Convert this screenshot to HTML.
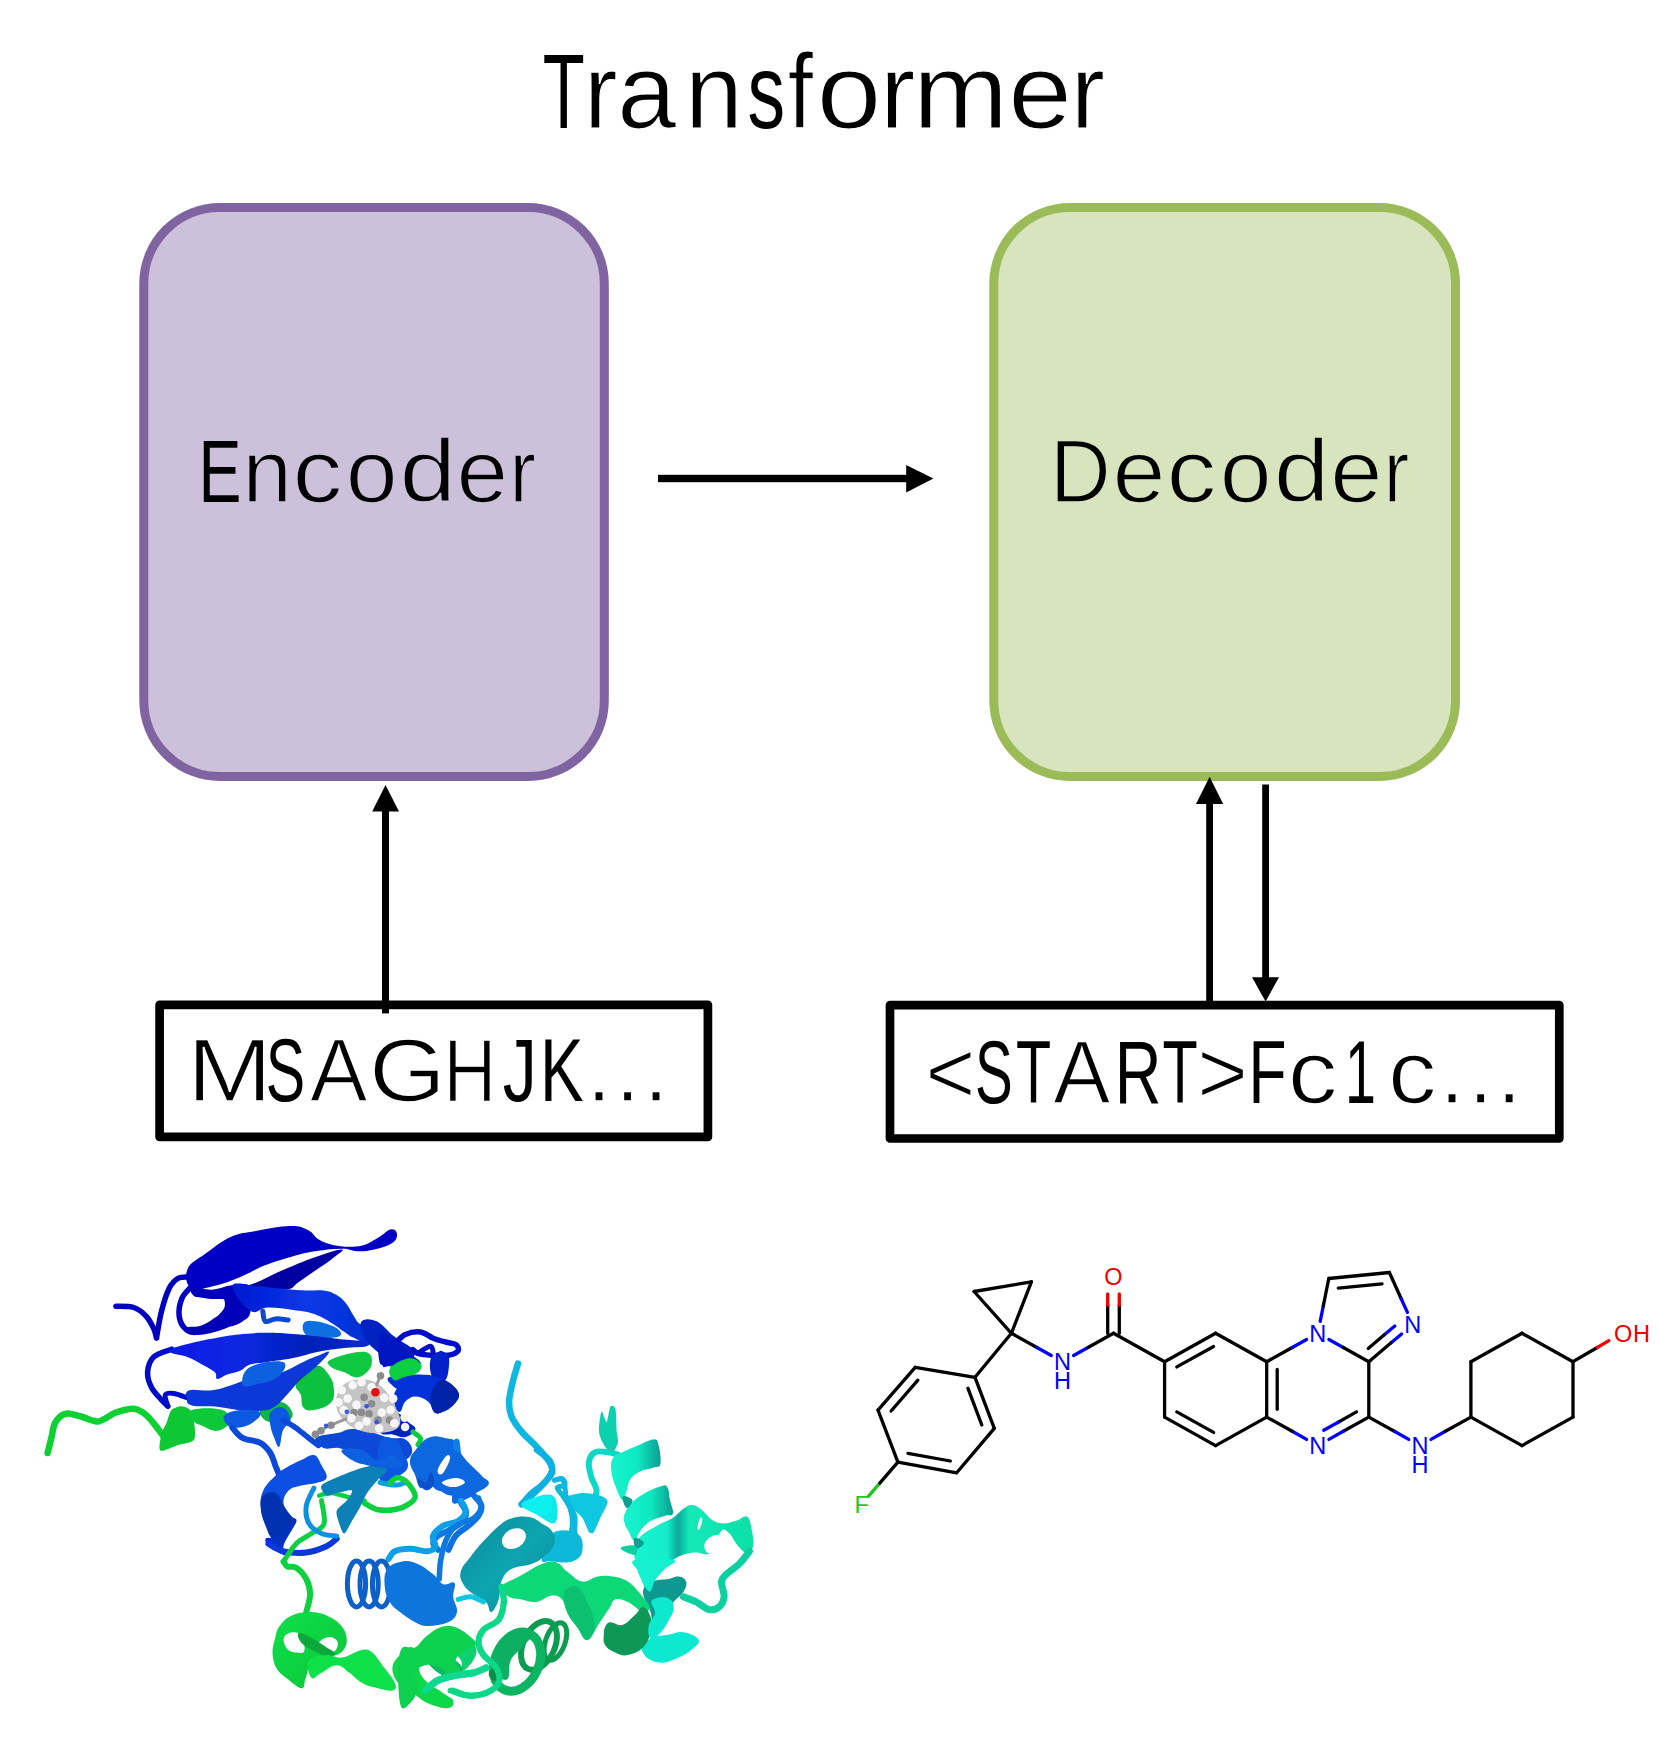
<!DOCTYPE html>
<html lang="en">
<head>
<meta charset="utf-8">
<title>Transformer</title>
<style>
html,body{margin:0;padding:0;background:#fff;}
body{width:1659px;height:1740px;overflow:hidden;position:relative;}
svg{position:absolute;left:0;top:0;display:block;}
text{font-family:"Liberation Sans",sans-serif;}
.mol text{font-size:23.5px;text-anchor:middle;}
</style>
</head>
<body>
<svg width="1659" height="1740" viewBox="0 0 1659 1740" role="img" aria-label="Transformer: Encoder, Decoder, MSAGHJK…, &lt;START&gt;Fc1c…">
<desc>Transformer diagram. Encoder block fed by protein sequence MSAGHJK… ; Decoder block exchanging tokens with &lt;START&gt;Fc1c… ; protein ribbon structure and generated molecule.</desc>
<rect x="0" y="0" width="1659" height="1740" fill="#ffffff"/>

<!-- title -->
<text y="128.2" font-size="105.5" stroke="#fff" stroke-width="1.2" paint-order="fill stroke"><tspan x="542.8" textLength="42.0" lengthAdjust="spacingAndGlyphs" stroke="none">T</tspan><tspan x="583.9" textLength="33.6" lengthAdjust="spacingAndGlyphs">r</tspan><tspan x="617.3" textLength="58.9" lengthAdjust="spacingAndGlyphs">a</tspan><tspan x="684.9" textLength="57.8" lengthAdjust="spacingAndGlyphs">n</tspan><tspan x="747.4" textLength="37.6" lengthAdjust="spacingAndGlyphs" stroke="none">s</tspan><tspan x="787.7" textLength="25.3" lengthAdjust="spacingAndGlyphs">f</tspan><tspan x="816.8" textLength="64.5" lengthAdjust="spacingAndGlyphs">o</tspan><tspan x="879.9" textLength="35.3" lengthAdjust="spacingAndGlyphs">r</tspan><tspan x="913.1" textLength="95.1" lengthAdjust="spacingAndGlyphs">m</tspan><tspan x="1008.2" textLength="63.7" lengthAdjust="spacingAndGlyphs">e</tspan><tspan x="1070.8" textLength="34.2" lengthAdjust="spacingAndGlyphs">r</tspan></text>

<!-- encoder / decoder blocks -->
<rect x="143.8" y="207.5" width="460.5" height="569" rx="76" ry="76" fill="#ccc0da" stroke="#8064a2" stroke-width="9"/>
<rect x="993.8" y="207.5" width="461.7" height="569" rx="76" ry="76" fill="#d7e4bd" stroke="#9bbb59" stroke-width="9"/>
<text y="501.8" font-size="89.5" stroke="#ccc0da" stroke-width="1.6" paint-order="fill stroke"><tspan x="198.4" textLength="42.9" lengthAdjust="spacingAndGlyphs" stroke="none">E</tspan><tspan x="242.6" textLength="49.3" lengthAdjust="spacingAndGlyphs">n</tspan><tspan x="292.4" textLength="49.9" lengthAdjust="spacingAndGlyphs">c</tspan><tspan x="345.7" textLength="51.8" lengthAdjust="spacingAndGlyphs">o</tspan><tspan x="399.6" textLength="56.6" lengthAdjust="spacingAndGlyphs">d</tspan><tspan x="456.6" textLength="51.6" lengthAdjust="spacingAndGlyphs">e</tspan><tspan x="509.5" textLength="26.5" lengthAdjust="spacingAndGlyphs">r</tspan></text>
<text y="501.8" font-size="89.5" stroke="#d7e4bd" stroke-width="1.6" paint-order="fill stroke"><tspan x="1049.9" textLength="60.7" lengthAdjust="spacingAndGlyphs">D</tspan><tspan x="1112.4" textLength="53.0" lengthAdjust="spacingAndGlyphs">e</tspan><tspan x="1166.5" textLength="49.9" lengthAdjust="spacingAndGlyphs">c</tspan><tspan x="1219.8" textLength="51.8" lengthAdjust="spacingAndGlyphs">o</tspan><tspan x="1273.7" textLength="55.7" lengthAdjust="spacingAndGlyphs">d</tspan><tspan x="1330.2" textLength="52.2" lengthAdjust="spacingAndGlyphs">e</tspan><tspan x="1383.7" textLength="25.5" lengthAdjust="spacingAndGlyphs">r</tspan></text>

<!-- arrows -->
<g fill="#000" stroke="none">
<rect x="658" y="474.8" width="250" height="7.4"/>
<polygon points="906.2,464.9 933.4,478.6 906.2,492.4"/>
<rect x="382" y="810" width="7" height="203.4"/>
<polygon points="372.2,811.4 385.5,785 399,811.4"/>
<rect x="1206.2" y="803" width="6.8" height="200"/>
<polygon points="1196,804 1209.6,776.7 1223.2,804"/>
<rect x="1262.2" y="784.5" width="6.8" height="194"/>
<polygon points="1252,977.2 1265.6,1001.6 1279,977.2"/>
</g>

<!-- sequence boxes -->
<rect x="159.6" y="1004.9" width="548.3" height="132" fill="none" stroke="#000" stroke-width="8.7" stroke-linejoin="round"/>
<rect x="890" y="1005.1" width="669.3" height="133.4" fill="none" stroke="#000" stroke-width="8.7" stroke-linejoin="round"/>
<text y="1100.8" font-size="89.5" stroke="#fff" stroke-width="1.6" paint-order="fill stroke"><tspan x="187.0" textLength="85.3" lengthAdjust="spacingAndGlyphs">M</tspan><tspan x="265.8" textLength="39.4" lengthAdjust="spacingAndGlyphs" stroke="none">S</tspan><tspan x="310.0" textLength="57.5" lengthAdjust="spacingAndGlyphs">A</tspan><tspan x="368.9" textLength="76.8" lengthAdjust="spacingAndGlyphs">G</tspan><tspan x="443.5" textLength="52.7" lengthAdjust="spacingAndGlyphs">H</tspan><tspan x="502.7" textLength="34.0" lengthAdjust="spacingAndGlyphs" stroke="none">J</tspan><tspan x="539.9" textLength="43.6" lengthAdjust="spacingAndGlyphs" stroke="none">K</tspan><tspan x="582.4" textLength="90.0" lengthAdjust="spacingAndGlyphs">…</tspan></text>
<text y="1102.8" font-size="89.5" stroke="#fff" stroke-width="1.6" paint-order="fill stroke"><tspan x="925.4" textLength="49.9" lengthAdjust="spacingAndGlyphs">&lt;</tspan><tspan x="974.9" textLength="37.7" lengthAdjust="spacingAndGlyphs" stroke="none">S</tspan><tspan x="1016.1" textLength="35.1" lengthAdjust="spacingAndGlyphs" stroke="none">T</tspan><tspan x="1053.2" textLength="57.1" lengthAdjust="spacingAndGlyphs">A</tspan><tspan x="1114.7" textLength="46.7" lengthAdjust="spacingAndGlyphs" stroke="none">R</tspan><tspan x="1162.6" textLength="35.2" lengthAdjust="spacingAndGlyphs" stroke="none">T</tspan><tspan x="1197.3" textLength="50.6" lengthAdjust="spacingAndGlyphs">&gt;</tspan><tspan x="1248.6" textLength="38.0" lengthAdjust="spacingAndGlyphs" stroke="none">F</tspan><tspan x="1287.7" textLength="49.8" lengthAdjust="spacingAndGlyphs">c</tspan><tspan x="1344.9" textLength="30.9" lengthAdjust="spacingAndGlyphs" stroke="none">1</tspan><tspan x="1388.1" textLength="48.6" lengthAdjust="spacingAndGlyphs">c</tspan><tspan x="1435.6" textLength="90.2" lengthAdjust="spacingAndGlyphs">…</tspan></text>

<g class="prot" filter="url(#soft)">
<defs>
<filter id="soft" x="-5%" y="-5%" width="110%" height="110%"><feGaussianBlur stdDeviation="0.7"/></filter>
<linearGradient id="gTQ" x1="0" y1="0" x2="1" y2="0"><stop offset="0" stop-color="#14f4d0"/><stop offset="0.55" stop-color="#10e8c0"/><stop offset="1" stop-color="#0a9c90"/></linearGradient>
<linearGradient id="gTQ2" x1="0" y1="0" x2="1" y2="0"><stop offset="0" stop-color="#14f4d0"/><stop offset="0.28" stop-color="#12ecc8"/><stop offset="0.37" stop-color="#0ca898"/><stop offset="0.46" stop-color="#12e8b8"/><stop offset="1" stop-color="#10e0a8"/></linearGradient>
<linearGradient id="gB1" x1="0" y1="0" x2="1" y2="0"><stop offset="0" stop-color="#0a1ae8"/><stop offset="0.35" stop-color="#0828e0"/><stop offset="0.7" stop-color="#0420b8"/><stop offset="1" stop-color="#0828d8"/></linearGradient>
<linearGradient id="gB2" x1="0" y1="0" x2="1" y2="0"><stop offset="0" stop-color="#0418d0"/><stop offset="0.5" stop-color="#0838e8"/><stop offset="1" stop-color="#0430d0"/></linearGradient>
<linearGradient id="gTeal" x1="0" y1="0" x2="1" y2="1"><stop offset="0" stop-color="#0a8a9c"/><stop offset="0.5" stop-color="#0ca4b0"/><stop offset="1" stop-color="#088898"/></linearGradient>
<linearGradient id="gG1" x1="0" y1="0" x2="1" y2="1"><stop offset="0" stop-color="#12e048"/><stop offset="1" stop-color="#0cc43c"/></linearGradient>
</defs>
<path d="M47.6,1453.0C48.2,1450.5 50.1,1442.9 51.4,1437.8C52.7,1432.8 52.9,1426.7 55.2,1422.7C57.5,1418.6 61.1,1414.9 65.3,1413.8C69.5,1412.7 75.0,1415.1 80.5,1416.3C86.0,1417.6 92.3,1422.0 98.2,1421.4C104.1,1420.8 110.0,1414.6 115.9,1412.5C121.9,1410.4 128.6,1408.3 133.7,1408.7C138.7,1409.2 142.1,1411.5 146.3,1415.1C150.5,1418.6 155.8,1426.2 159.0,1430.3C162.2,1434.3 164.3,1437.6 165.3,1439.1" fill="none" stroke="#08d030" stroke-width="6.5" stroke-linecap="round" stroke-linejoin="round"/>
<path d="M171.6,1410.0C173.7,1407.8 179.1,1405.9 181.8,1406.2C184.5,1406.5 190.2,1408.1 191.9,1412.5C193.6,1416.9 196.5,1434.7 194.4,1439.1C192.4,1443.5 181.3,1443.9 176.7,1445.4C172.2,1447.0 162.3,1452.0 160.3,1450.5C158.2,1449.0 160.7,1437.8 161.5,1434.1C162.4,1430.3 165.2,1425.9 166.6,1422.7C167.9,1419.5 169.6,1412.2 171.6,1410.0Z" fill="#08c832" />
<path d="M191.9,1410.0C197.7,1407.9 214.9,1407.5 222.3,1410.0C229.6,1412.5 229.6,1418.5 228.6,1422.7C227.6,1426.8 222.5,1430.2 217.2,1430.8C211.9,1431.4 206.8,1427.7 202.0,1425.7C197.2,1423.7 195.2,1423.8 193.2,1420.6C191.1,1417.5 186.1,1412.1 191.9,1410.0Z" fill="#08c838" />
<path d="M295.7,1384.7C296.7,1380.1 301.3,1375.8 305.8,1372.0C310.4,1368.2 313.9,1365.2 318.5,1365.7C323.0,1366.2 325.6,1370.3 328.6,1374.6C331.6,1378.9 333.2,1381.6 333.7,1387.2C334.2,1392.8 335.2,1397.8 331.1,1402.4C327.1,1407.0 319.0,1409.0 313.4,1410.0C307.8,1411.0 305.8,1410.5 303.3,1407.5C300.8,1404.4 302.3,1399.4 300.8,1394.8C299.2,1390.3 294.7,1389.2 295.7,1384.7Z" fill="#08c040" />
<path d="M331.1,1359.4C337.7,1356.3 355.9,1350.8 364.1,1351.8C372.2,1352.8 372.7,1359.4 371.6,1364.4C370.6,1369.5 364.6,1375.6 359.0,1377.1C353.4,1378.6 349.4,1374.1 343.8,1372.0C338.2,1370.0 333.7,1369.5 331.1,1367.0C328.6,1364.4 324.6,1362.4 331.1,1359.4Z" fill="#08c840" />
<path d="M391.9,1364.4C395.9,1361.6 409.1,1357.6 414.7,1358.1C420.3,1358.6 421.8,1363.7 419.7,1367.0C417.7,1370.3 409.6,1373.5 404.6,1374.6C399.5,1375.6 397.0,1374.1 394.4,1372.0C391.9,1370.0 387.8,1367.2 391.9,1364.4Z" fill="#08c840" />
<path d="M260.3,1407.5C263.3,1403.7 276.7,1400.4 283.0,1402.4C289.4,1404.4 294.9,1413.8 291.9,1417.6C288.9,1421.4 274.2,1423.4 267.8,1421.4C261.5,1419.4 257.2,1411.3 260.3,1407.5Z" fill="#08b840" />
<path d="M115.9,1306.2C118.9,1306.4 128.6,1305.8 133.7,1307.5C138.7,1309.2 143.0,1312.7 146.3,1316.3C149.7,1319.9 152.2,1325.4 153.9,1329.0C155.6,1332.6 156.0,1336.4 156.5,1337.8" fill="none" stroke="#0000c0" stroke-width="5.5" stroke-linecap="round" stroke-linejoin="round"/>
<path d="M156.5,1337.8C157.3,1333.4 159.4,1319.5 161.5,1311.3C163.6,1303.0 166.4,1294.0 169.1,1288.5C171.9,1283.0 174.6,1280.3 178.0,1278.4C181.4,1276.5 187.5,1277.3 189.4,1277.1" fill="none" stroke="#0000c0" stroke-width="5.5" stroke-linecap="round" stroke-linejoin="round"/>
<path d="M191.9,1285.9C190.2,1288.1 183.9,1293.5 181.8,1298.6C179.7,1303.7 178.6,1311.3 179.2,1316.3C179.9,1321.4 182.6,1326.4 185.6,1329.0C188.5,1331.6 195.1,1331.5 197.0,1332.0" fill="none" stroke="#0000c8" stroke-width="5.5" stroke-linecap="round" stroke-linejoin="round"/>
<path d="M171.6,1349.2C168.7,1350.5 157.9,1353.0 153.9,1356.8C149.9,1360.6 148.0,1367.0 147.6,1372.0C147.2,1377.1 149.1,1382.6 151.4,1387.2C153.7,1391.9 158.8,1396.7 161.5,1399.9C164.3,1403.0 166.8,1405.1 167.8,1406.2" fill="none" stroke="#0010c8" stroke-width="5.5" stroke-linecap="round" stroke-linejoin="round"/>
<path d="M167.8,1406.2C167.4,1404.3 164.3,1396.9 165.3,1394.8C166.4,1392.7 170.2,1392.9 174.2,1393.5C178.2,1394.2 186.8,1397.8 189.4,1398.6" fill="none" stroke="#0010c8" stroke-width="5.0" stroke-linecap="round" stroke-linejoin="round"/>
<path d="M342.0,1249.6C345.4,1249.9 337.3,1254.7 331.9,1258.9C326.5,1263.1 321.8,1266.0 315.0,1270.7C308.3,1275.4 303.5,1278.8 298.1,1282.5C292.7,1286.2 294.8,1287.9 288.0,1289.3C281.3,1290.6 275.9,1289.8 264.4,1289.3C252.9,1288.8 233.3,1287.7 230.6,1286.7C227.9,1285.8 240.8,1287.7 250.9,1284.5C261.0,1281.3 268.4,1276.2 281.3,1270.7C294.1,1265.2 302.9,1261.4 315.0,1257.2C327.2,1253.0 338.6,1249.3 342.0,1249.6Z" fill="#0000a0" />
<path d="M187.6,1269.0C190.5,1262.2 196.7,1260.2 205.3,1253.8C213.9,1247.4 220.5,1241.5 230.6,1236.9C240.8,1232.4 244.1,1233.2 255.9,1231.0C267.8,1228.8 279.2,1226.1 289.7,1226.0C300.2,1225.8 302.2,1227.3 308.3,1230.2C314.3,1233.1 313.7,1237.1 320.1,1240.3C326.5,1243.5 331.9,1245.2 340.3,1246.2C348.8,1247.2 354.5,1247.2 362.3,1245.4C370.0,1243.5 373.4,1240.1 379.2,1236.9C384.9,1233.7 387.4,1230.0 391.0,1229.3C394.5,1228.7 396.5,1230.9 396.9,1233.6C397.2,1236.3 397.2,1239.6 392.7,1242.8C388.1,1246.1 381.2,1247.9 374.1,1249.6C367.0,1251.3 363.6,1251.5 357.2,1251.3C350.8,1251.1 350.5,1248.8 342.0,1248.8C333.6,1248.8 325.5,1249.6 315.0,1251.3C304.6,1253.0 299.8,1254.3 289.7,1257.2C279.6,1260.1 274.5,1261.6 264.4,1265.6C254.3,1269.7 249.2,1273.4 239.1,1277.4C228.9,1281.5 223.4,1283.8 213.8,1285.9C204.1,1288.0 196.2,1291.3 191.0,1287.9C185.7,1284.5 184.7,1275.8 187.6,1269.0Z" fill="#0000c4" />
<path d="M191.9,1287.2C195.7,1286.1 204.1,1290.0 212.2,1289.7C220.3,1289.5 228.1,1284.4 232.4,1285.9C236.7,1287.5 236.7,1294.7 233.7,1297.3C230.6,1300.0 223.5,1299.0 217.2,1299.1C210.9,1299.2 206.8,1298.6 202.0,1297.8C197.2,1297.1 195.2,1297.4 193.2,1295.3C191.1,1293.2 188.1,1288.3 191.9,1287.2Z" fill="#0000b8" />
<path d="M224.8,1288.5C229.9,1284.4 245.0,1281.4 250.1,1285.9C255.3,1290.5 252.2,1304.2 250.6,1311.3C249.1,1318.4 247.2,1318.4 242.5,1321.4C237.9,1324.4 232.4,1327.0 227.3,1326.5C222.3,1325.9 217.7,1322.9 217.2,1318.9C216.7,1314.8 223.3,1312.3 224.8,1306.2C226.3,1300.1 219.7,1292.5 224.8,1288.5Z" fill="#0000b8" />
<path d="M185.6,1327.7C188.6,1326.1 195.7,1327.5 202.0,1325.2C208.4,1322.9 212.2,1319.1 217.2,1316.3C222.3,1313.5 222.3,1310.8 227.3,1311.3C232.4,1311.8 241.5,1316.1 242.5,1318.9C243.5,1321.6 238.0,1322.6 232.4,1325.2C226.8,1327.8 221.8,1330.1 214.7,1332.0C207.6,1334.0 202.5,1334.8 197.0,1335.1C191.4,1335.3 189.1,1334.8 186.8,1333.3C184.6,1331.8 182.5,1329.3 185.6,1327.7Z" fill="#0000b8" />
<path d="M232.4,1285.9C233.4,1281.0 245.6,1285.4 255.2,1285.9C264.8,1286.5 270.4,1287.6 280.5,1288.5C290.6,1289.4 297.2,1290.1 305.8,1290.5C314.4,1290.9 317.5,1289.6 323.5,1290.5C329.6,1291.4 331.6,1292.2 336.2,1294.8C340.8,1297.4 342.8,1299.4 346.3,1303.7C349.9,1308.0 351.1,1312.3 353.9,1316.3C356.7,1320.4 357.2,1322.9 360.3,1323.9C363.3,1324.9 365.3,1321.3 369.1,1321.4C372.9,1321.5 379.2,1320.4 379.2,1324.4C379.2,1328.5 374.2,1339.0 369.1,1341.6C364.1,1344.3 359.0,1339.9 353.9,1337.8C348.9,1335.8 348.4,1334.6 343.8,1331.5C339.2,1328.5 337.2,1326.2 331.1,1322.7C325.1,1319.1 321.0,1316.3 313.4,1313.8C305.8,1311.3 302.3,1311.3 293.2,1310.0C284.1,1308.7 276.5,1307.3 267.8,1307.5C259.2,1307.6 257.2,1315.1 250.1,1310.8C243.0,1306.5 231.4,1290.9 232.4,1285.9Z" fill="url(#gB2)" />
<path d="M305.8,1321.4C310.9,1319.4 327.1,1323.4 333.7,1326.5C340.3,1329.5 343.8,1334.6 338.7,1336.6C333.7,1338.6 314.9,1339.6 308.4,1336.6C301.8,1333.5 300.8,1323.4 305.8,1321.4Z" fill="#0a70e0" />
<path d="M262.8,1311.3C263.2,1313.0 263.2,1320.1 265.3,1321.4C267.4,1322.7 271.6,1319.1 275.4,1318.9C279.2,1318.6 286.0,1319.9 288.1,1320.1" fill="none" stroke="#0848d0" stroke-width="5.0" stroke-linecap="round" stroke-linejoin="round"/>
<path d="M171.6,1348.7C175.7,1346.7 182.8,1345.1 191.9,1342.9C201.0,1340.7 207.1,1339.6 217.2,1337.8C227.3,1336.1 232.4,1335.1 242.5,1334.1C252.7,1333.0 257.7,1332.8 267.8,1332.8C278.0,1332.8 283.0,1333.3 293.2,1334.1C303.3,1334.8 308.4,1335.5 318.5,1336.6C328.6,1337.7 334.4,1338.6 343.8,1339.6C353.2,1340.6 360.8,1340.3 365.3,1341.6C369.9,1343.0 370.9,1344.9 366.6,1346.2C362.3,1347.5 353.4,1346.9 343.8,1348.0C334.2,1349.1 328.6,1349.7 318.5,1351.8C308.4,1353.8 303.3,1356.1 293.2,1358.1C283.0,1360.1 276.5,1360.6 267.8,1361.9C259.2,1363.2 255.7,1362.7 250.1,1364.4C244.6,1366.2 244.6,1368.7 240.0,1370.8C235.4,1372.8 231.9,1372.9 227.3,1374.6C222.8,1376.2 219.7,1379.4 217.2,1378.9C214.7,1378.4 217.7,1374.9 214.7,1372.0C211.6,1369.1 207.6,1367.5 202.0,1364.4C196.5,1361.4 192.9,1359.1 186.8,1356.8C180.8,1354.6 174.7,1354.7 171.6,1353.0C168.6,1351.4 167.6,1350.8 171.6,1348.7Z" fill="url(#gB1)" />
<path d="M189.4,1390.3C194.4,1388.6 203.5,1391.4 212.2,1390.3C220.8,1389.1 224.8,1387.1 232.4,1384.7C240.0,1382.3 243.0,1380.1 250.1,1378.4C257.2,1376.6 261.3,1377.1 267.8,1375.8C274.4,1374.6 275.9,1374.8 283.0,1372.0C290.1,1369.2 296.2,1365.2 303.3,1361.9C310.4,1358.6 313.3,1357.5 318.5,1355.6C323.6,1353.6 329.6,1350.0 329.1,1352.3C328.6,1354.6 321.6,1361.5 315.9,1367.0C310.3,1372.4 306.3,1374.3 300.8,1379.6C295.2,1384.9 293.2,1388.2 288.1,1393.5C283.0,1398.9 280.5,1402.8 275.4,1406.2C270.4,1409.6 269.4,1409.6 262.8,1410.5C256.2,1411.4 251.6,1411.3 242.5,1410.5C233.4,1409.7 227.3,1407.7 217.2,1406.7C207.1,1405.7 198.0,1407.1 191.9,1405.4C185.8,1403.8 187.3,1401.6 186.8,1398.6C186.3,1395.6 184.3,1391.9 189.4,1390.3Z" fill="#0838d8" />
<path d="M250.1,1367.0C258.2,1362.4 277.5,1359.9 283.0,1361.9C288.6,1363.9 283.5,1372.5 278.0,1377.1C272.4,1381.6 262.3,1383.2 255.2,1384.7C248.1,1386.2 243.5,1388.2 242.5,1384.7C241.5,1381.1 242.0,1371.5 250.1,1367.0Z" fill="#0a60e0" />
<path d="M361.5,1321.4C364.1,1318.4 370.1,1318.4 376.7,1321.4C383.3,1324.4 386.8,1330.5 394.4,1336.6C402.0,1342.7 412.7,1346.7 414.7,1351.8C416.7,1356.8 409.6,1360.4 404.6,1361.9C399.5,1363.4 395.9,1362.4 389.4,1359.4C382.8,1356.3 376.7,1351.3 371.6,1346.7C366.6,1342.2 366.1,1341.6 364.1,1336.6C362.0,1331.5 359.0,1324.4 361.5,1321.4Z" fill="#0020c0" />
<path d="M389.4,1377.1C394.4,1374.6 409.1,1374.1 419.7,1374.6C430.4,1375.1 434.9,1375.1 442.5,1379.6C450.1,1384.2 458.2,1390.8 457.7,1397.3C457.2,1403.9 446.6,1412.5 440.0,1412.5C433.4,1412.5 431.4,1401.4 424.8,1397.3C418.2,1393.3 413.2,1394.3 407.1,1392.3C401.0,1390.3 398.0,1390.3 394.4,1387.2C390.9,1384.2 384.3,1379.6 389.4,1377.1Z" fill="#0030d8" />
<path d="M224.8,1415.1C227.8,1412.0 235.4,1410.5 242.5,1410.0C249.6,1409.5 258.2,1410.0 260.3,1412.5C262.3,1415.1 257.2,1419.6 252.7,1422.7C248.1,1425.7 242.5,1427.2 237.5,1427.7C232.4,1428.2 229.9,1427.7 227.3,1425.2C224.8,1422.7 221.8,1418.1 224.8,1415.1Z" fill="#0858e0" />
<path d="M232.4,1427.7C234.1,1429.4 237.9,1435.3 242.5,1437.8C247.2,1440.4 255.6,1440.4 260.3,1442.9C264.9,1445.4 267.8,1449.2 270.4,1453.0C272.9,1456.8 273.8,1461.5 275.4,1465.7C277.1,1469.9 279.7,1476.2 280.5,1478.4" fill="none" stroke="#0848d8" stroke-width="6.0" stroke-linecap="round" stroke-linejoin="round"/>
<path d="M270.4,1412.5C272.9,1409.0 279.0,1405.9 283.0,1407.5C287.1,1409.0 290.6,1415.6 290.6,1420.1C290.6,1424.7 285.3,1424.9 283.0,1430.3C280.8,1435.6 281.0,1445.2 279.2,1446.7C277.5,1448.2 275.9,1442.2 274.2,1437.8C272.4,1433.5 271.1,1430.3 270.4,1425.2C269.6,1420.1 267.8,1416.1 270.4,1412.5Z" fill="#0858e0" />
<path d="M283.0,1420.1C285.1,1421.4 291.5,1424.8 295.7,1427.7C299.9,1430.7 304.6,1434.9 308.4,1437.8C312.2,1440.8 316.8,1444.2 318.5,1445.4" fill="none" stroke="#0848d8" stroke-width="5.5" stroke-linecap="round" stroke-linejoin="round"/>
<path d="M315.9,1437.8C319.0,1434.8 331.6,1434.6 338.7,1432.8C345.8,1431.0 345.3,1429.2 351.4,1429.0C357.5,1428.7 361.5,1429.7 369.1,1431.5C376.7,1433.3 382.3,1436.3 389.4,1437.8C396.5,1439.4 400.0,1436.6 404.6,1439.1C409.1,1441.6 412.2,1446.2 412.2,1450.5C412.2,1454.8 409.1,1458.1 404.6,1460.6C400.0,1463.2 396.5,1463.4 389.4,1463.2C382.3,1462.9 376.2,1461.4 369.1,1459.4C362.0,1457.3 360.0,1455.3 353.9,1453.0C347.8,1450.8 344.8,1449.0 338.7,1448.0C332.7,1447.0 328.1,1450.0 323.5,1448.0C319.0,1445.9 312.9,1440.9 315.9,1437.8Z" fill="#0848d8" />
<path d="M395.2,1343.3C396.9,1341.8 401.1,1336.3 405.3,1334.4C409.5,1332.5 415.9,1331.3 420.5,1331.9C425.1,1332.5 428.9,1336.5 433.2,1338.2C437.4,1339.9 442.0,1341.0 445.8,1342.0C449.6,1343.1 453.9,1343.1 455.9,1344.6C458.0,1346.0 459.2,1349.1 458.0,1350.9C456.7,1352.7 452.9,1354.5 448.4,1355.2C443.8,1355.9 435.7,1355.5 430.6,1355.2C425.6,1354.9 420.9,1354.3 418.0,1353.4C415.0,1352.5 413.8,1350.3 412.9,1349.6" fill="none" stroke="#0010c8" stroke-width="5.5" stroke-linecap="round" stroke-linejoin="round"/>
<path d="M418.0,1353.4C420.1,1352.2 427.9,1345.9 430.6,1346.3C433.4,1346.8 432.7,1354.8 434.4,1355.9C436.1,1357.1 439.7,1353.8 440.8,1353.4" fill="none" stroke="#0010c8" stroke-width="5.0" stroke-linecap="round" stroke-linejoin="round"/>
<path d="M380.0,1334.4C383.0,1329.9 389.1,1337.0 395.2,1340.8C401.3,1344.6 405.3,1348.9 410.4,1353.4C415.4,1358.0 421.5,1361.5 420.5,1363.5C419.5,1365.6 411.4,1363.0 405.3,1363.5C399.2,1364.1 395.2,1366.1 390.1,1366.1C385.1,1366.1 382.0,1369.9 380.0,1363.5C378.0,1357.2 377.0,1339.0 380.0,1334.4Z" fill="#0018c0" />
<path d="M390.1,1368.6C392.9,1364.3 401.8,1359.5 407.8,1358.5C413.9,1357.5 418.5,1360.8 420.5,1363.5C422.5,1366.3 421.5,1369.6 418.0,1372.4C414.4,1375.2 407.6,1375.9 402.8,1377.5C398.0,1379.0 396.5,1381.8 393.9,1380.0C391.4,1378.2 387.3,1372.9 390.1,1368.6Z" fill="#08d040" />
<path d="M431.9,1355.9C434.9,1351.4 443.8,1350.4 447.1,1353.4C450.4,1356.5 449.1,1365.6 448.4,1371.1C447.6,1376.7 446.6,1380.3 443.3,1381.3C440.0,1382.3 434.2,1381.3 431.9,1376.2C429.6,1371.1 428.9,1360.5 431.9,1355.9Z" fill="#0020c8" />
<path d="M395.2,1391.4C398.2,1386.3 403.3,1384.1 410.4,1381.3C417.5,1378.5 423.8,1377.7 430.6,1377.5C437.5,1377.2 438.9,1376.2 444.6,1380.0C450.2,1383.8 460.3,1389.8 459.0,1396.5C457.7,1403.1 444.4,1412.4 438.2,1413.4C432.1,1414.4 432.7,1404.9 428.1,1401.5C423.5,1398.1 420.0,1396.5 415.4,1396.5C410.9,1396.5 408.4,1398.5 405.3,1401.5C402.3,1404.6 402.3,1410.6 400.3,1411.6C398.2,1412.7 396.2,1410.6 395.2,1406.6C394.2,1402.5 392.2,1396.5 395.2,1391.4Z" fill="#0030d8" />
<path d="M434.4,1386.3C437.2,1382.0 439.6,1378.0 444.6,1380.0C449.5,1382.0 460.3,1389.8 459.0,1396.5C457.7,1403.1 443.9,1412.4 438.2,1413.4C432.6,1414.4 431.4,1406.9 430.6,1401.5C429.9,1396.1 431.6,1390.6 434.4,1386.3Z" fill="#0020a8" />
<path d="M380.0,1411.6C383.0,1407.6 389.6,1409.6 395.2,1411.6C400.8,1413.7 403.8,1418.2 407.8,1421.8C411.9,1425.3 415.9,1426.3 415.4,1429.4C414.9,1432.4 409.9,1435.9 405.3,1437.0C400.8,1438.0 397.7,1435.4 392.7,1434.4C387.6,1433.4 382.5,1436.5 380.0,1431.9C377.5,1427.3 377.0,1415.7 380.0,1411.6Z" fill="#0020c0" />
<path d="M412.9,1431.9C414.2,1433.0 419.7,1436.1 420.5,1438.2C421.4,1440.3 418.4,1443.5 418.0,1444.6" fill="none" stroke="#08cc40" stroke-width="5.0" stroke-linecap="round" stroke-linejoin="round"/>
<path d="M380.0,1442.0C383.0,1433.9 390.6,1437.5 395.2,1439.5C399.7,1441.5 400.3,1446.6 402.8,1452.2C405.3,1457.7 409.4,1462.3 407.8,1467.3C406.3,1472.4 400.8,1474.9 395.2,1477.5C389.6,1480.0 383.0,1487.1 380.0,1480.0C377.0,1472.9 377.0,1450.1 380.0,1442.0Z" fill="#0858e0" />
<path d="M410.4,1462.3C410.4,1456.2 413.9,1452.2 418.0,1447.1C422.0,1442.0 425.1,1438.7 430.6,1437.0C436.2,1435.2 440.8,1437.2 445.8,1438.2C450.9,1439.2 452.9,1438.2 455.9,1442.0C459.0,1445.8 457.0,1451.1 461.0,1457.2C465.1,1463.3 470.6,1467.3 476.2,1472.4C481.8,1477.5 488.4,1479.0 488.9,1482.5C489.4,1486.1 483.8,1489.1 478.7,1490.1C473.7,1491.1 468.1,1486.6 463.5,1487.6C459.0,1488.6 460.0,1494.2 455.9,1495.2C451.9,1496.2 447.3,1495.2 443.3,1492.7C439.2,1490.1 438.2,1486.6 435.7,1482.5C433.2,1478.5 432.7,1472.4 430.6,1472.4C428.6,1472.4 428.1,1481.5 425.6,1482.5C423.0,1483.5 421.0,1481.5 418.0,1477.5C414.9,1473.4 410.4,1468.4 410.4,1462.3Z" fill="#0a68e0" />
<path d="M453.4,1442.0C454.0,1438.6 457.2,1437.0 459.0,1440.0C460.8,1443.0 459.8,1451.5 462.3,1457.2C464.7,1462.9 470.9,1465.6 471.1,1468.6C471.4,1471.6 466.6,1474.7 463.5,1472.4C460.5,1470.1 458.0,1463.3 455.9,1457.2C453.9,1451.1 452.8,1445.5 453.4,1442.0Z" fill="#1080e8" />
<path d="M453.4,1490.1C454.7,1492.2 458.9,1499.0 461.0,1502.8C463.1,1506.6 466.1,1509.5 466.1,1512.9C466.1,1516.3 464.0,1520.1 461.0,1523.0C458.1,1526.0 452.2,1528.5 448.4,1530.6C444.6,1532.7 440.8,1533.6 438.2,1535.7C435.7,1537.8 433.2,1540.9 433.2,1543.3C433.2,1545.7 437.4,1548.8 438.2,1549.9" fill="none" stroke="#0a78e0" stroke-width="6.0" stroke-linecap="round" stroke-linejoin="round"/>
<path d="M473.7,1495.2C474.9,1496.9 480.4,1501.9 481.3,1505.3C482.1,1508.7 480.8,1512.1 478.7,1515.4C476.6,1518.8 472.4,1522.2 468.6,1525.6C464.8,1528.9 459.3,1531.6 455.9,1535.7C452.6,1539.7 449.6,1547.5 448.4,1549.9" fill="none" stroke="#0a70e0" stroke-width="6.0" stroke-linecap="round" stroke-linejoin="round"/>
<path d="M380.0,1482.5C382.5,1483.0 391.0,1485.1 395.2,1485.1C399.4,1485.1 403.6,1483.0 405.3,1482.5" fill="none" stroke="#10a0e0" stroke-width="5.0" stroke-linecap="round" stroke-linejoin="round"/>
<path d="M518.0,1363.5C517.1,1366.5 514.4,1374.9 512.9,1381.3C511.4,1387.6 509.3,1395.6 509.1,1401.5C508.9,1407.4 509.5,1411.6 511.6,1416.7C513.8,1421.8 517.6,1426.8 521.8,1431.9C526.0,1437.0 532.3,1442.0 537.0,1447.1C541.6,1452.2 547.1,1458.1 549.6,1462.3C552.2,1466.5 553.0,1469.0 552.2,1472.4C551.3,1475.8 547.9,1478.7 544.6,1482.5C541.2,1486.3 535.7,1491.6 531.9,1495.2C528.1,1498.8 523.5,1502.6 521.8,1504.1" fill="none" stroke="#10b8e0" stroke-width="6.5" stroke-linecap="round" stroke-linejoin="round"/>
<path d="M521.8,1504.1C522.8,1501.5 530.9,1499.5 537.0,1497.7C543.0,1495.9 548.1,1493.2 552.2,1495.2C556.2,1497.2 556.7,1502.3 557.2,1507.8C557.7,1513.4 557.7,1521.0 554.7,1523.0C551.6,1525.1 546.6,1520.5 542.0,1518.0C537.5,1515.4 535.9,1513.2 531.9,1510.4C527.8,1507.6 520.8,1506.6 521.8,1504.1Z" fill="#10e8e8" />
<path d="M567.3,1500.3C568.4,1498.2 578.5,1495.5 582.5,1495.2C586.6,1494.9 594.5,1496.7 597.7,1497.7C600.9,1498.7 606.6,1499.7 606.6,1502.8C606.6,1505.8 599.9,1516.5 597.7,1520.5C595.5,1524.6 592.2,1533.5 590.1,1533.2C588.1,1532.8 584.6,1521.0 582.5,1518.0C580.5,1514.9 577.0,1512.7 574.9,1510.4C572.9,1508.0 566.3,1502.3 567.3,1500.3Z" fill="#10c8e0" />
<path d="M554.7,1480.0C555.9,1479.8 560.6,1477.9 562.3,1478.7C564.0,1479.6 565.7,1483.6 564.8,1485.1C564.0,1486.5 557.6,1485.9 557.2,1487.6C556.8,1489.3 560.2,1491.8 562.3,1495.2C564.4,1498.6 568.2,1503.2 569.9,1507.8C571.6,1512.5 572.4,1518.0 572.4,1523.0C572.4,1528.1 570.3,1535.7 569.9,1538.2" fill="none" stroke="#10b8d8" stroke-width="5.0" stroke-linecap="round" stroke-linejoin="round"/>
<path d="M618.0,1454.7C616.3,1454.3 611.6,1452.6 607.8,1452.2C604.1,1451.7 598.4,1450.5 595.2,1452.2C592.0,1453.8 589.5,1458.1 588.9,1462.3C588.2,1466.5 590.1,1472.8 591.4,1477.5C592.7,1482.1 596.2,1485.9 596.5,1490.1C596.7,1494.3 593.3,1500.7 592.7,1502.8" fill="none" stroke="#10d8c8" stroke-width="6.0" stroke-linecap="round" stroke-linejoin="round"/>
<path d="M601.5,1411.6C602.5,1410.3 605.4,1422.4 606.6,1421.8C607.8,1421.1 609.2,1408.3 610.4,1406.6C611.6,1404.9 614.6,1405.7 615.4,1409.1C616.3,1412.5 616.4,1427.5 616.7,1431.9C617.0,1436.3 618.5,1439.3 618.0,1442.0C617.5,1444.7 614.6,1451.5 612.9,1452.2C611.2,1452.8 607.2,1449.8 605.3,1447.1C603.5,1444.4 599.5,1436.6 599.0,1431.9C598.5,1427.2 600.5,1413.0 601.5,1411.6Z" fill="#10d0b0" />
<path d="M275.9,1475.3C280.5,1470.8 281.0,1470.8 286.1,1467.7C291.1,1464.7 295.7,1462.7 301.3,1460.1C306.8,1457.6 309.9,1454.1 313.9,1455.1C318.0,1456.1 319.0,1460.6 321.5,1465.2C324.1,1469.7 327.6,1474.3 326.6,1477.8C325.6,1481.4 321.5,1481.4 316.5,1482.9C311.4,1484.4 306.8,1483.9 301.3,1485.4C295.7,1487.0 292.2,1487.0 288.6,1490.5C285.1,1494.1 283.0,1498.1 283.5,1503.2C284.1,1508.2 288.6,1512.3 291.1,1515.8C293.7,1519.4 297.2,1517.8 296.2,1520.9C295.2,1523.9 290.6,1527.5 286.1,1531.0C281.5,1534.6 277.5,1539.6 273.4,1538.6C269.4,1537.6 268.4,1532.0 265.8,1525.9C263.3,1519.9 261.3,1515.3 260.8,1508.2C260.3,1501.1 260.3,1497.1 263.3,1490.5C266.3,1483.9 271.4,1479.9 275.9,1475.3Z" fill="#0a50e0" />
<path d="M263.3,1495.6C266.3,1492.5 271.9,1491.0 275.9,1493.0C280.0,1495.1 280.5,1501.0 283.5,1505.7C286.6,1510.4 288.6,1513.2 291.1,1516.3C293.7,1519.5 297.2,1518.4 296.2,1521.4C295.2,1524.4 290.6,1528.1 286.1,1531.5C281.5,1535.0 277.5,1539.7 273.4,1538.6C269.4,1537.5 268.4,1532.0 265.8,1525.9C263.3,1519.9 261.3,1514.3 260.8,1508.2C260.3,1502.2 260.3,1498.6 263.3,1495.6Z" fill="#0030b0" />
<path d="M265.8,1538.6C267.3,1536.6 269.9,1539.6 275.9,1536.1C282.0,1532.5 294.7,1518.9 296.2,1520.9C297.7,1522.9 285.1,1539.1 283.5,1546.2C282.0,1553.3 290.1,1555.3 288.6,1556.3C287.1,1557.3 280.0,1553.3 275.9,1551.3C271.9,1549.2 270.4,1548.7 268.4,1546.2C266.3,1543.7 264.3,1540.6 265.8,1538.6Z" fill="#0030c0" />
<path d="M268.4,1543.7C270.9,1544.9 277.2,1549.8 283.5,1551.3C289.9,1552.7 299.2,1553.4 306.3,1552.5C313.5,1551.7 321.5,1548.5 326.6,1546.2C331.6,1543.9 335.0,1539.9 336.7,1538.6" fill="none" stroke="#0838d8" stroke-width="6.0" stroke-linecap="round" stroke-linejoin="round"/>
<path d="M364.6,1503.2C366.7,1504.2 372.2,1508.4 377.2,1509.5C382.3,1510.5 389.5,1510.5 394.9,1509.5C400.4,1508.4 406.8,1505.5 410.1,1503.2C413.5,1500.8 415.6,1498.9 415.2,1495.6C414.8,1492.2 410.5,1485.9 407.6,1482.9C404.6,1480.0 400.4,1477.8 397.5,1477.8C394.5,1477.8 391.1,1482.1 389.9,1482.9" fill="none" stroke="#10d040" stroke-width="5.5" stroke-linecap="round" stroke-linejoin="round"/>
<path d="M319.0,1495.6C321.1,1495.1 326.2,1492.6 331.6,1493.0C337.1,1493.5 346.4,1496.8 351.9,1498.1C357.4,1499.4 362.4,1500.2 364.6,1500.6" fill="none" stroke="#10d040" stroke-width="4.5" stroke-linecap="round" stroke-linejoin="round"/>
<path d="M283.5,1561.4C285.7,1558.4 291.6,1548.3 296.2,1543.7C300.8,1539.0 306.8,1536.9 311.4,1533.5C316.0,1530.2 322.4,1528.9 324.1,1523.4C325.7,1517.9 321.9,1504.4 321.5,1500.6" fill="none" stroke="#10d040" stroke-width="5.0" stroke-linecap="round" stroke-linejoin="round"/>
<path d="M313.9,1488.0C312.7,1490.9 307.2,1499.8 306.3,1505.7C305.5,1511.6 306.3,1518.8 308.9,1523.4C311.4,1528.1 316.9,1531.4 321.5,1533.5C326.2,1535.7 334.2,1535.7 336.7,1536.1" fill="none" stroke="#1090e0" stroke-width="5.0" stroke-linecap="round" stroke-linejoin="round"/>
<path d="M321.5,1485.4C323.5,1482.7 336.4,1477.7 341.8,1475.3C347.2,1473.0 357.3,1469.1 362.0,1467.7C366.8,1466.4 373.8,1464.9 377.2,1465.2C380.6,1465.5 387.3,1468.2 387.3,1470.3C387.3,1472.3 379.9,1477.3 377.2,1480.4C374.5,1483.4 369.5,1489.3 367.1,1493.0C364.7,1496.8 361.5,1504.5 359.5,1508.2C357.5,1511.9 353.9,1517.5 351.9,1520.9C349.9,1524.3 346.0,1533.2 344.3,1533.5C342.6,1533.9 340.3,1526.5 339.2,1523.4C338.2,1520.4 335.7,1513.8 336.7,1510.8C337.7,1507.7 344.8,1503.3 346.8,1500.6C348.9,1497.9 353.2,1491.5 351.9,1490.5C350.5,1489.5 340.1,1492.4 336.7,1493.0C333.3,1493.7 328.6,1496.6 326.6,1495.6C324.6,1494.6 319.5,1488.1 321.5,1485.4Z" fill="#0a80b8" />
<path d="M341.8,1450.0C343.8,1448.0 354.9,1448.0 362.0,1450.0C369.1,1452.0 371.1,1459.1 377.2,1460.1C383.3,1461.1 387.3,1454.1 392.4,1455.1C397.5,1456.1 403.5,1462.7 402.5,1465.2C401.5,1467.7 394.4,1467.7 387.3,1467.7C380.3,1467.7 374.2,1466.7 367.1,1465.2C360.0,1463.7 357.0,1463.2 351.9,1460.1C346.8,1457.1 339.7,1452.0 341.8,1450.0Z" fill="#0a60e0" />
<path d="M410.1,1460.1C411.1,1455.1 411.6,1452.0 420.3,1450.0C428.9,1448.0 443.5,1447.5 453.2,1450.0C462.8,1452.5 461.8,1456.1 468.4,1462.7C474.9,1469.2 484.6,1476.8 486.1,1482.9C487.6,1489.0 480.5,1489.5 475.9,1493.0C471.4,1496.6 467.8,1498.6 463.3,1500.6C458.7,1502.7 455.7,1504.7 453.2,1503.2C450.6,1501.6 453.7,1495.6 450.6,1493.0C447.6,1490.5 442.5,1492.5 438.0,1490.5C433.4,1488.5 431.4,1483.4 427.8,1482.9C424.3,1482.4 422.8,1489.5 420.3,1488.0C417.7,1486.5 417.2,1480.9 415.2,1475.3C413.2,1469.7 409.1,1465.2 410.1,1460.1Z" fill="#0a68e0" />
<path d="M460.8,1500.6C461.6,1502.3 466.2,1507.4 465.8,1510.8C465.4,1514.1 462.0,1518.4 458.2,1520.9C454.4,1523.4 447.3,1523.4 443.0,1525.9C438.8,1528.5 434.2,1532.7 432.9,1536.1C431.6,1539.5 436.3,1543.7 435.4,1546.2C434.6,1548.7 432.1,1550.8 427.8,1551.3C423.6,1551.7 415.6,1548.7 410.1,1548.7C404.6,1548.7 398.5,1549.6 394.9,1551.3C391.4,1553.0 389.7,1557.6 388.6,1558.9" fill="none" stroke="#10a0e8" stroke-width="6.0" stroke-linecap="round" stroke-linejoin="round"/>
<path d="M478.5,1498.1C478.9,1499.8 481.9,1504.9 481.0,1508.2C480.2,1511.6 477.6,1515.4 473.4,1518.4C469.2,1521.3 460.3,1522.2 455.7,1525.9C451.1,1529.7 448.1,1535.2 445.6,1541.1C443.0,1547.0 441.6,1555.1 440.5,1561.4C439.5,1567.7 439.5,1576.2 439.2,1579.1" fill="none" stroke="#0a78e0" stroke-width="5.5" stroke-linecap="round" stroke-linejoin="round"/>
<ellipse cx="356.5" cy="1583.9" rx="9.1" ry="23.0" fill="none" stroke="#0a60c8" stroke-width="5.0" transform="rotate(0 356.5 1583.9)"/>
<ellipse cx="369.1" cy="1583.9" rx="9.1" ry="23.0" fill="none" stroke="#0a60c8" stroke-width="5.0" transform="rotate(0 369.1 1583.9)"/>
<ellipse cx="381.5" cy="1583.9" rx="9.1" ry="23.0" fill="none" stroke="#0a60c8" stroke-width="5.0" transform="rotate(0 381.5 1583.9)"/>
<path d="M387.3,1569.0C390.9,1563.9 396.5,1562.4 402.5,1561.4C408.6,1560.4 411.6,1561.4 417.7,1563.9C423.8,1566.5 427.8,1570.0 432.9,1574.1C438.0,1578.1 438.7,1582.4 443.0,1584.2C447.3,1585.9 452.4,1580.4 454.4,1582.9C456.5,1585.4 452.7,1591.0 453.2,1596.8C453.7,1602.7 458.0,1607.0 457.0,1612.0C455.9,1617.1 453.9,1619.4 448.1,1622.2C442.3,1624.9 434.4,1625.9 427.8,1625.9C421.3,1625.9 420.8,1624.9 415.2,1622.2C409.6,1619.4 405.1,1616.1 400.0,1612.0C394.9,1608.0 392.9,1607.0 389.9,1601.9C386.8,1596.8 385.3,1593.3 384.8,1586.7C384.3,1580.1 383.8,1574.1 387.3,1569.0Z" fill="#0a74dc" />
<path d="M283.5,1561.4C284.2,1562.2 285.2,1565.4 287.3,1566.5C289.5,1567.5 293.0,1565.6 296.2,1567.7C299.4,1569.8 304.0,1574.7 306.3,1579.1C308.6,1583.5 310.1,1588.8 310.1,1594.3C310.1,1599.8 307.0,1609.1 306.3,1612.0" fill="none" stroke="#10d040" stroke-width="6.0" stroke-linecap="round" stroke-linejoin="round"/>
<path d="M279.3,1626.6C282.4,1622.3 284.7,1618.8 290.9,1615.9C297.0,1613.0 302.8,1612.1 310.2,1612.1C317.5,1612.1 321.3,1613.2 327.5,1615.9C333.7,1618.6 337.2,1621.0 341.0,1625.6C344.9,1630.2 346.4,1634.1 346.8,1639.1C347.2,1644.1 346.0,1647.2 342.9,1650.7C339.9,1654.1 336.4,1655.3 331.4,1656.5C326.4,1657.6 322.1,1654.9 317.9,1656.5C313.6,1658.0 312.7,1659.5 310.2,1664.2C307.6,1668.8 307.1,1674.8 305.3,1679.6C303.6,1684.4 305.1,1688.5 301.5,1688.3C297.8,1688.1 292.0,1682.7 287.0,1678.6C282.0,1674.6 279.3,1673.2 276.4,1668.0C273.5,1662.8 272.7,1658.8 272.5,1652.6C272.3,1646.4 274.1,1642.4 275.4,1637.2C276.8,1632.0 276.2,1630.8 279.3,1626.6Z" fill="url(#gG1)" />
<path d="M284.1,1637.2C285.5,1633.9 290.3,1632.3 293.8,1632.3C297.2,1632.3 299.4,1633.5 301.5,1637.2C303.6,1640.8 305.3,1647.6 304.4,1650.7C303.4,1653.8 300.1,1653.0 296.7,1652.6C293.2,1652.2 289.5,1651.8 287.0,1648.7C284.5,1645.6 282.8,1640.4 284.1,1637.2Z" fill="#ffffff" />
<path d="M317.9,1644.9C318.3,1641.6 323.7,1637.9 327.5,1637.2C331.4,1636.4 335.6,1638.3 337.2,1641.0C338.7,1643.7 337.5,1648.2 335.2,1650.7C332.9,1653.2 329.1,1654.7 325.6,1653.6C322.1,1652.4 317.5,1648.2 317.9,1644.9Z" fill="#ffffff" />
<path d="M298.6,1633.3C300.3,1632.1 304.8,1634.5 310.2,1637.2C315.6,1639.9 320.6,1643.5 325.6,1646.8C330.6,1650.1 334.8,1651.6 335.2,1653.6C335.6,1655.5 331.8,1657.0 327.5,1656.5C323.3,1655.9 319.2,1653.4 314.0,1650.7C308.8,1648.0 304.6,1646.4 301.5,1642.9C298.4,1639.5 296.8,1634.5 298.6,1633.3Z" fill="#0aa83a" />
<path d="M308.9,1660.1C311.9,1655.6 320.0,1655.6 326.6,1655.1C333.2,1654.6 334.7,1658.6 341.8,1657.6C348.9,1656.6 355.9,1651.0 362.0,1650.0C368.1,1649.0 368.1,1649.5 372.2,1652.5C376.2,1655.6 377.7,1659.1 382.3,1665.2C386.8,1671.3 392.9,1677.8 394.9,1682.9C397.0,1688.0 395.9,1689.5 392.4,1690.5C388.9,1691.5 383.3,1689.5 377.2,1688.0C371.1,1686.5 367.6,1685.9 362.0,1682.9C356.5,1679.9 354.4,1676.3 349.4,1672.8C344.3,1669.2 342.3,1665.2 336.7,1665.2C331.1,1665.2 326.6,1670.3 321.5,1672.8C316.5,1675.3 313.9,1680.4 311.4,1677.8C308.9,1675.3 305.8,1664.7 308.9,1660.1Z" fill="#10e048" />
<path d="M392.4,1667.7C392.9,1661.1 398.5,1656.6 402.5,1652.5C406.6,1648.5 409.6,1645.9 412.7,1647.5C415.7,1649.0 415.7,1654.1 417.7,1660.1C419.7,1666.2 417.7,1671.3 422.8,1677.8C427.8,1684.4 437.0,1688.5 443.0,1693.0C449.1,1697.6 452.2,1697.6 453.2,1700.6C454.2,1703.7 453.2,1707.7 448.1,1708.2C443.0,1708.7 434.9,1706.2 427.8,1703.2C420.8,1700.1 418.2,1696.6 412.7,1693.0C407.1,1689.5 404.1,1690.5 400.0,1685.4C395.9,1680.4 391.9,1674.3 392.4,1667.7Z" fill="#10d848" />
<path d="M422.8,1644.9C423.8,1640.4 427.8,1635.8 432.9,1632.3C438.0,1628.7 441.5,1626.7 448.1,1627.2C454.7,1627.7 460.3,1630.8 465.8,1634.8C471.4,1638.9 474.4,1642.4 475.9,1647.5C477.5,1652.5 475.9,1655.6 473.4,1660.1C470.9,1664.7 465.8,1670.3 463.3,1670.3C460.8,1670.3 463.3,1664.2 460.8,1660.1C458.2,1656.1 455.2,1652.5 450.6,1650.0C446.1,1647.5 442.5,1646.5 438.0,1647.5C433.4,1648.5 430.9,1655.6 427.8,1655.1C424.8,1654.6 421.8,1649.5 422.8,1644.9Z" fill="#10d070" />
<path d="M427.8,1660.1C428.9,1656.6 437.0,1654.6 443.0,1655.1C449.1,1655.6 454.2,1659.1 458.2,1662.7C462.3,1666.2 464.3,1669.7 463.3,1672.8C462.3,1675.8 458.2,1677.8 453.2,1677.8C448.1,1677.8 443.0,1676.3 438.0,1672.8C432.9,1669.2 426.8,1663.7 427.8,1660.1Z" fill="#10b860" />
<path d="M425.3,1690.5C427.4,1688.8 432.9,1682.9 438.0,1680.4C443.0,1677.8 449.8,1676.6 455.7,1675.3C461.6,1674.1 470.5,1673.2 473.4,1672.8" fill="none" stroke="#10d890" stroke-width="7.0" stroke-linecap="round" stroke-linejoin="round"/>
<path d="M453.2,1690.5C455.7,1691.4 462.9,1695.1 468.4,1695.6C473.8,1696.0 481.0,1695.1 486.1,1693.0C491.1,1690.9 497.0,1687.1 498.7,1682.9C500.4,1678.7 498.7,1672.4 496.2,1667.7C493.7,1663.1 486.5,1659.3 483.5,1655.1C480.6,1650.8 478.5,1646.6 478.5,1642.4C478.5,1638.2 480.2,1633.5 483.5,1629.7C486.9,1625.9 495.4,1624.3 498.7,1619.6C502.1,1615.0 503.4,1607.4 503.8,1601.9C504.2,1596.4 501.7,1589.2 501.3,1586.7" fill="none" stroke="#10d888" stroke-width="6.0" stroke-linecap="round" stroke-linejoin="round"/>
<path d="M536.7,1450.0C538.8,1451.7 546.8,1456.8 549.4,1460.1C551.9,1463.5 552.7,1466.5 551.9,1470.3C551.1,1474.1 547.7,1479.1 544.3,1482.9C540.9,1486.7 535.4,1489.5 531.6,1493.0C527.8,1496.6 523.2,1502.5 521.5,1504.4" fill="none" stroke="#10b0e0" stroke-width="6.0" stroke-linecap="round" stroke-linejoin="round"/>
<path d="M521.5,1504.4C522.0,1501.1 531.1,1498.6 536.7,1496.8C542.3,1495.1 546.3,1493.3 549.4,1495.6C552.4,1497.8 552.9,1504.2 551.9,1508.2C550.9,1512.3 547.8,1514.8 544.3,1515.8C540.8,1516.8 538.7,1515.6 534.2,1513.3C529.6,1511.0 521.0,1507.7 521.5,1504.4Z" fill="#10f0f0" />
<path d="M567.1,1496.8C568.8,1495.3 577.9,1493.2 582.3,1493.0C586.7,1492.9 596.6,1494.4 600.0,1495.6C603.4,1496.8 607.6,1498.9 607.6,1501.9C607.6,1504.9 602.0,1514.1 600.0,1518.4C598.0,1522.6 594.4,1533.2 592.4,1533.5C590.4,1533.9 586.8,1523.9 584.8,1520.9C582.8,1517.8 579.2,1513.0 577.2,1510.8C575.2,1508.6 571.0,1506.3 569.6,1504.4C568.3,1502.6 565.4,1498.4 567.1,1496.8Z" fill="#10c8e0" />
<path d="M554.4,1480.4C555.7,1480.2 560.3,1478.3 562.0,1479.1C563.7,1480.0 563.7,1481.9 564.6,1485.4C565.4,1489.0 565.4,1495.6 567.1,1500.6C568.8,1505.7 573.4,1510.8 574.7,1515.8C575.9,1520.9 574.3,1526.8 574.7,1531.0C575.1,1535.2 576.8,1539.5 577.2,1541.1" fill="none" stroke="#10b8e0" stroke-width="5.0" stroke-linecap="round" stroke-linejoin="round"/>
<path d="M613.1,1457.9C615.4,1454.4 617.3,1454.8 622.7,1452.1C628.1,1449.4 633.9,1446.9 640.1,1444.4C646.3,1441.9 649.9,1439.5 653.6,1439.5C657.3,1439.5 657.1,1439.5 658.4,1444.4C659.8,1449.2 661.3,1459.0 660.4,1463.7C659.4,1468.3 657.7,1466.0 653.6,1467.5C649.6,1469.1 644.7,1469.1 640.1,1471.4C635.5,1473.7 633.2,1475.2 630.5,1479.1C627.8,1482.9 628.1,1486.4 626.6,1490.7C625.1,1494.9 625.1,1501.5 622.7,1500.3C620.4,1499.2 617.3,1491.0 615.0,1484.9C612.7,1478.7 611.6,1474.8 611.2,1469.4C610.8,1464.0 610.8,1461.3 613.1,1457.9Z" fill="url(#gTQ)" />
<path d="M624.7,1513.8C626.2,1509.6 628.1,1506.5 632.4,1502.2C636.6,1498.0 640.5,1495.7 645.9,1492.6C651.3,1489.5 655.2,1488.0 659.4,1486.8C663.6,1485.6 665.0,1484.1 667.1,1486.8C669.2,1489.5 668.9,1494.9 670.0,1500.3C671.2,1505.7 673.9,1510.7 672.9,1513.8C671.9,1516.9 669.8,1514.2 665.2,1515.7C660.6,1517.3 654.8,1518.4 649.8,1521.5C644.7,1524.6 643.2,1527.3 640.1,1531.2C637.0,1535.0 636.6,1540.8 634.3,1540.8C632.0,1540.8 630.5,1534.6 628.5,1531.2C626.6,1527.7 625.4,1526.9 624.7,1523.5C623.9,1520.0 623.1,1518.1 624.7,1513.8Z" fill="url(#gTQ)" />
<path d="M634.3,1546.6C635.5,1540.4 637.4,1539.3 642.0,1535.0C646.7,1530.8 651.3,1528.9 657.5,1525.4C663.6,1521.9 667.5,1521.1 672.9,1517.7C678.3,1514.2 680.6,1510.5 684.5,1508.0C688.3,1505.5 688.7,1504.7 692.2,1505.1C695.7,1505.5 698.0,1507.1 701.8,1510.0C705.7,1512.8 707.2,1516.9 711.5,1519.6C715.7,1522.3 718.0,1523.3 723.1,1523.5C728.1,1523.6 731.7,1521.9 736.6,1520.6C741.4,1519.2 744.1,1514.6 747.2,1516.7C750.3,1518.8 750.8,1525.2 752.0,1531.2C753.1,1537.2 754.1,1542.4 753.0,1546.6C751.8,1550.8 749.1,1552.4 746.2,1552.4C743.3,1552.4 742.0,1550.5 738.5,1546.6C735.0,1542.7 732.3,1536.2 728.8,1533.1C725.4,1530.0 724.2,1528.1 721.1,1531.2C718.0,1534.3 716.1,1543.9 713.4,1548.5C710.7,1553.2 711.1,1553.5 707.6,1554.3C704.2,1555.1 700.7,1552.4 696.0,1552.4C691.4,1552.4 689.1,1552.8 684.5,1554.3C679.8,1555.9 677.5,1557.0 672.9,1560.1C668.3,1563.2 665.2,1565.5 661.3,1569.8C657.5,1574.0 656.3,1576.7 653.6,1581.3C650.9,1586.0 650.1,1592.9 647.8,1592.9C645.5,1592.9 644.4,1586.7 642.0,1581.3C639.7,1575.9 637.8,1572.8 636.2,1565.9C634.7,1559.0 633.2,1552.8 634.3,1546.6Z" fill="url(#gTQ2)" />
<ellipse cx="716.3" cy="1544.7" rx="12.3" ry="9.6" fill="#ffffff" transform="rotate(-20 716.3 1544.7)"/>
<ellipse cx="699.9" cy="1523.5" rx="1.7" ry="6.6" fill="#ffffff" transform="rotate(15 699.9 1523.5)"/>
<path d="M622.7,1496.5C623.9,1494.9 631.6,1498.0 632.4,1500.3C633.2,1502.6 628.5,1508.8 626.6,1508.0C624.7,1507.3 621.6,1498.0 622.7,1496.5Z" fill="#0ca090" />
<path d="M634.3,1537.9C635.9,1536.8 643.6,1540.6 644.0,1542.7C644.4,1544.9 638.2,1549.5 636.2,1548.5C634.3,1547.6 632.8,1539.1 634.3,1537.9Z" fill="#0ca090" />
<path d="M620.8,1547.6C622.4,1546.2 631.2,1544.3 634.3,1545.6C637.4,1547.0 637.8,1553.0 636.2,1554.3C634.7,1555.7 629.7,1553.7 626.6,1552.4C623.5,1551.0 619.3,1548.9 620.8,1547.6Z" fill="#10d0a0" />
<path d="M643.0,1591.8C643.5,1585.7 648.1,1584.2 653.2,1581.6C658.2,1579.1 663.3,1580.1 668.4,1579.1C673.4,1578.1 674.9,1576.1 678.5,1576.6C682.0,1577.1 685.1,1578.6 686.1,1581.6C687.1,1584.7 686.1,1587.7 683.5,1591.8C681.0,1595.8 677.5,1597.8 673.4,1601.9C669.4,1605.9 667.3,1607.0 663.3,1612.0C659.2,1617.1 655.7,1627.2 653.2,1627.2C650.6,1627.2 652.7,1619.1 650.6,1612.0C648.6,1604.9 642.5,1597.8 643.0,1591.8Z" fill="#0a9890" />
<path d="M643.0,1644.9C645.1,1641.9 648.1,1639.4 653.2,1637.3C658.2,1635.3 662.3,1635.8 668.4,1634.8C674.4,1633.8 677.5,1631.3 683.5,1632.3C689.6,1633.3 697.2,1636.3 698.7,1639.9C700.3,1643.4 695.2,1646.5 691.1,1650.0C687.1,1653.5 684.1,1655.1 678.5,1657.6C672.9,1660.1 668.9,1662.2 663.3,1662.7C657.7,1663.2 654.7,1662.2 650.6,1660.1C646.6,1658.1 644.6,1655.6 643.0,1652.5C641.5,1649.5 641.0,1648.0 643.0,1644.9Z" fill="#10e8d0" />
<path d="M749.4,1551.3C747.7,1553.4 743.0,1560.1 739.2,1563.9C735.4,1567.7 729.5,1571.1 726.6,1574.1C723.6,1577.0 721.9,1577.8 721.5,1581.6C721.1,1585.4 724.5,1592.6 724.1,1596.8C723.6,1601.1 721.5,1604.9 719.0,1607.0C716.5,1609.1 712.7,1610.3 708.9,1609.5C705.1,1608.6 700.4,1604.0 696.2,1601.9C692.0,1599.8 685.7,1597.7 683.5,1596.8" fill="none" stroke="#10d0a0" stroke-width="7.0" stroke-linecap="round" stroke-linejoin="round"/>
<path d="M551.9,1533.5C559.0,1528.5 571.1,1530.0 577.2,1533.5C583.3,1537.1 583.3,1545.7 582.3,1551.3C581.3,1556.8 578.2,1559.4 572.2,1561.4C566.1,1563.4 558.0,1561.9 551.9,1561.4C545.8,1560.9 541.8,1564.4 541.8,1558.9C541.8,1553.3 544.8,1538.6 551.9,1533.5Z" fill="#10b8d8" />
<path d="M460.8,1571.5C462.3,1565.9 466.3,1562.4 470.9,1556.3C475.4,1550.3 478.0,1547.2 483.5,1541.1C489.1,1535.1 493.2,1530.5 498.7,1525.9C504.3,1521.4 505.3,1520.1 511.4,1518.4C517.5,1516.6 523.0,1516.1 529.1,1517.1C535.2,1518.1 537.2,1520.6 541.8,1523.4C546.3,1526.2 549.4,1527.0 551.9,1531.0C554.4,1535.1 555.9,1538.6 554.4,1543.7C552.9,1548.7 548.9,1552.3 544.3,1556.3C539.7,1560.4 538.2,1561.4 531.6,1563.9C525.1,1566.5 517.5,1565.4 511.4,1569.0C505.3,1572.5 503.8,1575.6 501.3,1581.6C498.7,1587.7 500.8,1593.3 498.7,1599.4C496.7,1605.4 493.7,1611.5 491.1,1612.0C488.6,1612.5 489.6,1605.4 486.1,1601.9C482.5,1598.4 478.0,1597.8 473.4,1594.3C468.9,1590.8 465.8,1588.7 463.3,1584.2C460.8,1579.6 459.2,1577.1 460.8,1571.5Z" fill="url(#gTeal)" />
<ellipse cx="513.9" cy="1538.6" rx="12.7" ry="9.6" fill="#ffffff" transform="rotate(-30 513.9 1538.6)"/>
<path d="M458.2,1599.4C460.3,1598.9 466.7,1596.4 470.9,1596.8C475.1,1597.3 481.4,1601.1 483.5,1601.9" fill="none" stroke="#10c8e0" stroke-width="5.0" stroke-linecap="round" stroke-linejoin="round"/>
<path d="M501.3,1586.7C503.3,1582.7 510.9,1581.1 519.0,1576.6C527.1,1572.0 534.2,1566.7 541.8,1563.9C549.4,1561.1 551.9,1561.1 557.0,1562.7C562.0,1564.2 562.0,1567.7 567.1,1571.5C572.2,1575.3 576.2,1580.6 582.3,1581.6C588.4,1582.7 591.4,1577.6 597.5,1576.6C603.5,1575.6 606.6,1575.6 612.7,1576.6C618.7,1577.6 622.3,1578.1 627.8,1581.6C633.4,1585.2 636.2,1589.2 640.5,1594.3C644.8,1599.4 648.9,1603.4 649.4,1607.0C649.9,1610.5 647.3,1613.0 643.0,1612.0C638.7,1611.0 633.4,1604.4 627.8,1601.9C622.3,1599.4 618.7,1598.4 615.2,1599.4C611.6,1600.4 613.2,1602.4 610.1,1607.0C607.1,1611.5 604.6,1615.6 600.0,1622.2C595.4,1628.7 591.9,1638.9 587.3,1639.9C582.8,1640.9 581.3,1632.8 577.2,1627.2C573.2,1621.6 570.1,1617.6 567.1,1612.0C564.1,1606.5 565.1,1602.7 562.0,1599.4C559.0,1596.1 557.0,1595.1 551.9,1595.6C546.8,1596.1 542.8,1601.1 536.7,1601.9C530.6,1602.7 527.1,1600.4 521.5,1599.4C515.9,1598.4 512.9,1599.4 508.9,1596.8C504.8,1594.3 499.2,1590.8 501.3,1586.7Z" fill="#10d878" />
<path d="M564.6,1591.8C566.6,1586.7 572.7,1584.7 577.2,1586.7C581.8,1588.7 583.8,1594.3 587.3,1601.9C590.9,1609.5 594.9,1617.1 594.9,1624.7C594.9,1632.3 590.9,1639.4 587.3,1639.9C583.8,1640.4 581.3,1632.8 577.2,1627.2C573.2,1621.6 569.6,1619.1 567.1,1612.0C564.6,1604.9 562.5,1596.8 564.6,1591.8Z" fill="#0ec070" />
<ellipse cx="555.4" cy="1641.5" rx="9.7" ry="19.6" fill="none" stroke="#0c9c50" stroke-width="5.0" transform="rotate(20 555.4 1641.5)"/>
<ellipse cx="539.0" cy="1645.4" rx="15.7" ry="25.9" fill="none" stroke="#0c9c50" stroke-width="6.0" transform="rotate(25 539.0 1645.4)"/>
<ellipse cx="517.0" cy="1661.9" rx="21.9" ry="30.6" fill="none" stroke="#10b462" stroke-width="9.0" transform="rotate(25 517.0 1661.9)"/>
<path d="M493.5,1654.0C495.1,1646.5 498.8,1640.6 504.5,1635.2C510.1,1629.9 516.1,1627.7 521.7,1627.4C527.4,1627.1 532.7,1629.6 532.7,1633.7C532.7,1637.7 526.1,1642.4 521.7,1647.8C517.3,1653.1 513.6,1654.0 510.8,1660.3C507.9,1666.6 510.4,1676.6 507.6,1679.1C504.8,1681.6 499.5,1677.9 496.6,1672.9C493.8,1667.8 491.9,1661.6 493.5,1654.0Z" fill="#10b060" />
<path d="M488.8,1672.9C489.4,1670.3 494.1,1667.5 496.6,1668.2C499.2,1668.8 502.0,1673.5 501.3,1676.0C500.7,1678.5 496.0,1681.3 493.5,1680.7C491.0,1680.1 488.2,1675.4 488.8,1672.9Z" fill="#0a8c48" />
<path d="M400.0,1652.5C403.0,1641.4 410.1,1650.5 415.2,1647.5C420.3,1644.4 420.3,1641.4 425.3,1637.3C430.4,1633.3 434.4,1629.2 440.5,1627.2C446.6,1625.2 449.6,1625.2 455.7,1627.2C461.8,1629.2 466.8,1633.8 470.9,1637.3C474.9,1640.9 477.0,1642.4 475.9,1644.9C474.9,1647.5 469.9,1647.0 465.8,1650.0C461.8,1653.0 456.7,1655.6 455.7,1660.1C454.7,1664.7 461.8,1669.2 460.8,1672.8C459.7,1676.3 454.7,1678.9 450.6,1677.8C446.6,1676.8 445.6,1670.3 440.5,1667.7C435.4,1665.2 430.4,1664.2 425.3,1665.2C420.3,1666.2 416.7,1668.2 415.2,1672.8C413.7,1677.3 418.7,1681.9 417.7,1688.0C416.7,1694.1 413.7,1700.1 410.1,1703.2C406.6,1706.2 402.0,1713.3 400.0,1703.2C398.0,1693.0 397.0,1663.7 400.0,1652.5Z" fill="#10d050" />
<path d="M425.3,1690.5C427.4,1688.8 432.9,1682.9 438.0,1680.4C443.0,1677.8 449.8,1676.6 455.7,1675.3C461.6,1674.1 468.4,1674.1 473.4,1672.8C478.5,1671.5 484.0,1668.6 486.1,1667.7" fill="none" stroke="#10d890" stroke-width="7.0" stroke-linecap="round" stroke-linejoin="round"/>
<path d="M450.6,1690.5C453.6,1691.4 462.4,1695.1 468.4,1695.6C474.3,1696.0 481.0,1695.1 486.1,1693.0C491.1,1690.9 497.0,1687.1 498.7,1682.9C500.4,1678.7 498.7,1672.4 496.2,1667.7C493.7,1663.1 486.5,1659.3 483.5,1655.1C480.6,1650.8 478.5,1646.6 478.5,1642.4C478.5,1638.2 480.2,1633.5 483.5,1629.7C486.9,1625.9 495.4,1624.3 498.7,1619.6C502.1,1615.0 503.4,1607.4 503.8,1601.9C504.2,1596.4 501.7,1589.2 501.3,1586.7" fill="none" stroke="#10d888" stroke-width="6.0" stroke-linecap="round" stroke-linejoin="round"/>
<path d="M605.1,1627.2C606.3,1624.7 606.6,1622.7 610.1,1622.2C613.7,1621.6 617.7,1626.2 622.8,1624.7C627.8,1623.2 631.4,1618.1 635.4,1614.6C639.5,1611.0 640.0,1606.5 643.0,1607.0C646.1,1607.5 649.1,1612.0 650.6,1617.1C652.2,1622.2 652.2,1626.2 650.6,1632.3C649.1,1638.4 647.6,1642.9 643.0,1647.5C638.5,1652.0 633.4,1654.1 627.8,1655.1C622.3,1656.1 619.7,1654.6 615.2,1652.5C610.6,1650.5 607.3,1648.5 605.1,1644.9C602.8,1641.4 603.8,1638.4 603.8,1634.8C603.8,1631.3 603.8,1629.7 605.1,1627.2Z" fill="#0a9858" />
<path d="M437.7,1469.9C438.5,1466.3 443.9,1458.1 446.3,1455.9C448.8,1453.8 450.7,1455.7 449.9,1459.2C449.1,1462.8 444.7,1471.5 442.3,1473.7C439.8,1475.8 436.9,1473.4 437.7,1469.9Z" fill="#ffffff" />
<path d="M442.0,1482.5C442.5,1480.7 451.4,1478.0 455.9,1478.0C460.5,1478.0 465.3,1480.7 464.8,1482.5C464.3,1484.4 458.0,1487.1 453.4,1487.1C448.9,1487.1 441.5,1484.4 442.0,1482.5Z" fill="#ffffff" />
<path d="M418.0,1477.5C419.0,1476.7 423.0,1483.5 425.6,1482.5C428.1,1481.5 428.9,1472.4 430.6,1472.4C432.4,1472.4 434.9,1479.0 434.4,1482.5C433.9,1486.1 430.9,1489.4 428.1,1490.1C425.3,1490.9 422.5,1488.9 420.5,1486.3C418.5,1483.8 417.0,1478.2 418.0,1477.5Z" fill="#0a50c8" />
<path d="M341.3,1387.2C345.8,1382.2 351.4,1380.1 359.0,1379.6C366.6,1379.1 372.2,1379.6 379.2,1384.7C386.3,1389.7 390.4,1396.8 394.4,1404.9C398.5,1413.0 402.0,1419.6 399.5,1425.2C397.0,1430.8 389.9,1431.8 381.8,1432.8C373.7,1433.8 366.6,1432.8 359.0,1430.3C351.4,1427.7 348.4,1425.2 343.8,1420.1C339.2,1415.1 336.7,1411.5 336.2,1404.9C335.7,1398.4 336.7,1392.3 341.3,1387.2Z" fill="#c4c4c4" />
<path d="M348.9,1417.6C345.9,1418.9 335.8,1423.1 331.1,1425.2C326.5,1427.3 323.8,1428.6 321.0,1430.3C318.3,1431.9 315.7,1434.1 314.7,1434.8" fill="none" stroke="#9a9a9a" stroke-width="3.0" stroke-linecap="round" stroke-linejoin="round"/>
<path d="M376.7,1384.7C377.3,1383.0 380.1,1377.5 380.5,1374.6C380.9,1371.6 379.5,1368.2 379.2,1367.0" fill="none" stroke="#9a9a9a" stroke-width="3.0" stroke-linecap="round" stroke-linejoin="round"/>
<ellipse cx="364.1" cy="1397.3" rx="3.8" ry="3.8" fill="#8c8c8c" transform="rotate(0 364.1 1397.3)"/>
<ellipse cx="371.6" cy="1403.7" rx="3.8" ry="3.8" fill="#8c8c8c" transform="rotate(0 371.6 1403.7)"/>
<ellipse cx="369.1" cy="1413.8" rx="3.8" ry="3.8" fill="#8c8c8c" transform="rotate(0 369.1 1413.8)"/>
<ellipse cx="378.0" cy="1420.1" rx="3.8" ry="3.8" fill="#8c8c8c" transform="rotate(0 378.0 1420.1)"/>
<ellipse cx="353.9" cy="1412.5" rx="3.8" ry="3.8" fill="#8c8c8c" transform="rotate(0 353.9 1412.5)"/>
<ellipse cx="331.1" cy="1425.2" rx="3.8" ry="3.8" fill="#8c8c8c" transform="rotate(0 331.1 1425.2)"/>
<ellipse cx="321.0" cy="1430.8" rx="3.8" ry="3.8" fill="#8c8c8c" transform="rotate(0 321.0 1430.8)"/>
<ellipse cx="315.4" cy="1434.3" rx="3.8" ry="3.8" fill="#8c8c8c" transform="rotate(0 315.4 1434.3)"/>
<ellipse cx="380.5" cy="1375.8" rx="3.8" ry="3.8" fill="#8c8c8c" transform="rotate(0 380.5 1375.8)"/>
<ellipse cx="389.4" cy="1420.1" rx="3.8" ry="3.8" fill="#8c8c8c" transform="rotate(0 389.4 1420.1)"/>
<ellipse cx="361.5" cy="1412.5" rx="3.8" ry="3.8" fill="#8c8c8c" transform="rotate(0 361.5 1412.5)"/>
<ellipse cx="379.2" cy="1368.2" rx="4.3" ry="4.3" fill="#f6f6f6" transform="rotate(0 379.2 1368.2)"/>
<ellipse cx="361.5" cy="1382.2" rx="4.3" ry="4.3" fill="#f6f6f6" transform="rotate(0 361.5 1382.2)"/>
<ellipse cx="352.7" cy="1385.2" rx="4.3" ry="4.3" fill="#f6f6f6" transform="rotate(0 352.7 1385.2)"/>
<ellipse cx="341.8" cy="1390.3" rx="4.3" ry="4.3" fill="#f6f6f6" transform="rotate(0 341.8 1390.3)"/>
<ellipse cx="347.6" cy="1398.6" rx="4.3" ry="4.3" fill="#f6f6f6" transform="rotate(0 347.6 1398.6)"/>
<ellipse cx="356.5" cy="1404.9" rx="4.3" ry="4.3" fill="#f6f6f6" transform="rotate(0 356.5 1404.9)"/>
<ellipse cx="343.8" cy="1410.0" rx="4.3" ry="4.3" fill="#f6f6f6" transform="rotate(0 343.8 1410.0)"/>
<ellipse cx="351.4" cy="1418.1" rx="4.3" ry="4.3" fill="#f6f6f6" transform="rotate(0 351.4 1418.1)"/>
<ellipse cx="366.6" cy="1421.4" rx="4.3" ry="4.3" fill="#f6f6f6" transform="rotate(0 366.6 1421.4)"/>
<ellipse cx="359.0" cy="1425.7" rx="4.3" ry="4.3" fill="#f6f6f6" transform="rotate(0 359.0 1425.7)"/>
<ellipse cx="381.8" cy="1412.5" rx="4.3" ry="4.3" fill="#f6f6f6" transform="rotate(0 381.8 1412.5)"/>
<ellipse cx="390.6" cy="1410.0" rx="4.3" ry="4.3" fill="#f6f6f6" transform="rotate(0 390.6 1410.0)"/>
<ellipse cx="394.4" cy="1423.2" rx="4.3" ry="4.3" fill="#f6f6f6" transform="rotate(0 394.4 1423.2)"/>
<ellipse cx="404.6" cy="1417.6" rx="4.3" ry="4.3" fill="#f6f6f6" transform="rotate(0 404.6 1417.6)"/>
<ellipse cx="405.1" cy="1427.0" rx="4.3" ry="4.3" fill="#f6f6f6" transform="rotate(0 405.1 1427.0)"/>
<ellipse cx="379.2" cy="1428.2" rx="4.3" ry="4.3" fill="#f6f6f6" transform="rotate(0 379.2 1428.2)"/>
<ellipse cx="384.3" cy="1397.8" rx="4.3" ry="4.3" fill="#f6f6f6" transform="rotate(0 384.3 1397.8)"/>
<ellipse cx="338.7" cy="1402.4" rx="4.3" ry="4.3" fill="#f6f6f6" transform="rotate(0 338.7 1402.4)"/>
<ellipse cx="371.6" cy="1387.2" rx="4.3" ry="4.3" fill="#f6f6f6" transform="rotate(0 371.6 1387.2)"/>
<ellipse cx="393.2" cy="1398.6" rx="4.3" ry="4.3" fill="#f6f6f6" transform="rotate(0 393.2 1398.6)"/>
<ellipse cx="346.8" cy="1411.8" rx="2.3" ry="2.3" fill="#3858e0" transform="rotate(0 346.8 1411.8)"/>
<ellipse cx="326.1" cy="1425.7" rx="2.3" ry="2.3" fill="#3858e0" transform="rotate(0 326.1 1425.7)"/>
<ellipse cx="376.7" cy="1422.2" rx="2.3" ry="2.3" fill="#3858e0" transform="rotate(0 376.7 1422.2)"/>
<ellipse cx="366.6" cy="1406.2" rx="2.3" ry="2.3" fill="#3858e0" transform="rotate(0 366.6 1406.2)"/>
<ellipse cx="375.4" cy="1392.3" rx="4.3" ry="4.3" fill="#e81010" transform="rotate(0 375.4 1392.3)"/>
<path d="M651.8,1600.8C654.0,1597.6 661.5,1596.4 665.9,1597.6C670.3,1598.9 673.4,1602.0 673.8,1607.0C674.1,1612.0 670.6,1617.1 667.5,1622.7C664.4,1628.3 661.5,1632.1 658.1,1635.2C654.6,1638.4 652.1,1640.3 650.3,1638.4C648.4,1636.5 647.7,1630.8 648.7,1625.8C649.6,1620.8 654.3,1618.3 655.0,1613.3C655.6,1608.3 649.6,1603.9 651.8,1600.8Z" fill="#10e8d0" />
<path d="M634.6,1560.0C641.5,1557.5 667.8,1558.1 673.8,1560.0C679.7,1561.9 668.1,1565.3 664.4,1569.4C660.6,1573.5 657.8,1576.0 655.0,1580.4C652.1,1584.8 652.4,1590.4 650.3,1591.3C648.1,1592.3 646.2,1588.8 644.0,1585.1C641.8,1581.3 641.2,1577.6 639.3,1572.5C637.4,1567.5 627.7,1562.5 634.6,1560.0Z" fill="#12f0d0" />
</g>
<g class="mol" fill="none" stroke-width="3.3" stroke-linecap="round">
<line x1="868.3" y1="1496.4" x2="879.8" y2="1483.2" stroke="#1ec81e"/>
<line x1="879.8" y1="1483.2" x2="897.9" y2="1462.2" stroke="#000000"/>
<line x1="897.9" y1="1462.2" x2="878.0" y2="1410.1" stroke="#000000"/>
<line x1="878.0" y1="1410.1" x2="915.2" y2="1367.3" stroke="#000000"/>
<line x1="891.1" y1="1411.0" x2="917.9" y2="1380.2" stroke="#000000"/>
<line x1="915.2" y1="1367.3" x2="975.0" y2="1377.3" stroke="#000000"/>
<line x1="975.0" y1="1377.3" x2="994.3" y2="1428.4" stroke="#000000"/>
<line x1="967.9" y1="1388.2" x2="981.8" y2="1425.0" stroke="#000000"/>
<line x1="994.3" y1="1428.4" x2="956.7" y2="1472.8" stroke="#000000"/>
<line x1="956.7" y1="1472.8" x2="897.9" y2="1462.2" stroke="#000000"/>
<line x1="950.3" y1="1461.0" x2="908.0" y2="1453.4" stroke="#000000"/>
<line x1="975.0" y1="1377.3" x2="1011.4" y2="1333.3" stroke="#000000"/>
<line x1="1011.4" y1="1333.3" x2="974.1" y2="1291.5" stroke="#000000"/>
<line x1="1011.4" y1="1333.3" x2="1031.4" y2="1281.8" stroke="#000000"/>
<line x1="974.1" y1="1291.5" x2="1031.4" y2="1281.8" stroke="#000000"/>
<line x1="1011.4" y1="1333.3" x2="1036.9" y2="1347.5" stroke="#000000"/>
<line x1="1036.9" y1="1347.5" x2="1051.3" y2="1355.5" stroke="#0000ff"/>
<line x1="1073.6" y1="1355.5" x2="1088.0" y2="1347.5" stroke="#0000ff"/>
<line x1="1088.0" y1="1347.5" x2="1113.5" y2="1333.3" stroke="#000000"/>
<line x1="1119.3" y1="1333.3" x2="1119.3" y2="1305.2" stroke="#000000"/>
<line x1="1119.3" y1="1305.2" x2="1119.3" y2="1294.0" stroke="#f00000"/>
<line x1="1107.7" y1="1333.3" x2="1107.7" y2="1305.2" stroke="#000000"/>
<line x1="1107.7" y1="1305.2" x2="1107.7" y2="1294.0" stroke="#f00000"/>
<line x1="1113.5" y1="1333.3" x2="1164.6" y2="1361.7" stroke="#000000"/>
<line x1="1164.6" y1="1361.7" x2="1215.6" y2="1333.3" stroke="#000000"/>
<line x1="1176.8" y1="1366.9" x2="1213.6" y2="1346.5" stroke="#000000"/>
<line x1="1215.6" y1="1333.3" x2="1266.7" y2="1361.7" stroke="#000000"/>
<line x1="1266.7" y1="1361.7" x2="1266.7" y2="1417.1" stroke="#000000"/>
<line x1="1277.2" y1="1369.5" x2="1277.2" y2="1409.3" stroke="#000000"/>
<line x1="1266.7" y1="1417.1" x2="1215.6" y2="1445.6" stroke="#000000"/>
<line x1="1215.6" y1="1445.6" x2="1164.6" y2="1417.1" stroke="#000000"/>
<line x1="1213.6" y1="1432.4" x2="1176.8" y2="1411.9" stroke="#000000"/>
<line x1="1164.6" y1="1417.1" x2="1164.6" y2="1361.7" stroke="#000000"/>
<line x1="1266.7" y1="1361.7" x2="1292.2" y2="1347.5" stroke="#000000"/>
<line x1="1292.2" y1="1347.5" x2="1306.6" y2="1339.5" stroke="#0000ff"/>
<line x1="1328.9" y1="1339.5" x2="1343.3" y2="1347.5" stroke="#0000ff"/>
<line x1="1343.3" y1="1347.5" x2="1368.8" y2="1361.7" stroke="#000000"/>
<line x1="1368.8" y1="1361.7" x2="1368.8" y2="1417.1" stroke="#000000"/>
<line x1="1368.8" y1="1417.1" x2="1343.3" y2="1431.3" stroke="#000000"/>
<line x1="1343.3" y1="1431.3" x2="1328.9" y2="1439.4" stroke="#0000ff"/>
<line x1="1356.5" y1="1411.9" x2="1338.2" y2="1422.2" stroke="#000000"/>
<line x1="1338.2" y1="1422.2" x2="1323.7" y2="1430.2" stroke="#0000ff"/>
<line x1="1306.6" y1="1439.4" x2="1292.2" y2="1431.3" stroke="#0000ff"/>
<line x1="1292.2" y1="1431.3" x2="1266.7" y2="1417.1" stroke="#000000"/>
<line x1="1320.2" y1="1321.3" x2="1323.3" y2="1305.9" stroke="#0000ff"/>
<line x1="1323.3" y1="1305.9" x2="1328.8" y2="1278.5" stroke="#000000"/>
<line x1="1328.8" y1="1278.5" x2="1389.4" y2="1272.5" stroke="#000000"/>
<line x1="1338.3" y1="1288.1" x2="1382.0" y2="1283.8" stroke="#000000"/>
<line x1="1389.4" y1="1272.5" x2="1401.1" y2="1298.5" stroke="#000000"/>
<line x1="1401.1" y1="1298.5" x2="1407.4" y2="1312.4" stroke="#0000ff"/>
<line x1="1401.6" y1="1334.0" x2="1390.8" y2="1343.1" stroke="#0000ff"/>
<line x1="1390.8" y1="1343.1" x2="1368.8" y2="1361.7" stroke="#000000"/>
<line x1="1394.8" y1="1326.0" x2="1384.0" y2="1335.1" stroke="#0000ff"/>
<line x1="1384.0" y1="1335.1" x2="1368.2" y2="1348.5" stroke="#000000"/>
<line x1="1368.8" y1="1417.1" x2="1394.3" y2="1431.3" stroke="#000000"/>
<line x1="1394.3" y1="1431.3" x2="1408.7" y2="1439.4" stroke="#0000ff"/>
<line x1="1431.0" y1="1439.4" x2="1445.4" y2="1431.3" stroke="#0000ff"/>
<line x1="1445.4" y1="1431.3" x2="1470.9" y2="1417.1" stroke="#000000"/>
<line x1="1470.9" y1="1417.1" x2="1470.9" y2="1361.7" stroke="#000000"/>
<line x1="1470.9" y1="1361.7" x2="1522.0" y2="1333.3" stroke="#000000"/>
<line x1="1522.0" y1="1333.3" x2="1573.0" y2="1361.7" stroke="#000000"/>
<line x1="1573.0" y1="1361.7" x2="1573.0" y2="1417.1" stroke="#000000"/>
<line x1="1573.0" y1="1417.1" x2="1522.0" y2="1445.6" stroke="#000000"/>
<line x1="1522.0" y1="1445.6" x2="1470.9" y2="1417.1" stroke="#000000"/>
<line x1="1573.0" y1="1361.7" x2="1597.3" y2="1347.5" stroke="#000000"/>
<line x1="1597.3" y1="1347.5" x2="1608.9" y2="1340.7" stroke="#f00000"/>
<text x="861.6" y="1512.6" fill="#1ec81e">F</text>
<text x="1062.4" y="1370.1" fill="#0000ff">N</text>
<text x="1062.4" y="1389.1" fill="#0000ff">H</text>
<text x="1113.5" y="1285.4" fill="#f00000">O</text>
<text x="1317.7" y="1341.7" fill="#0000ff">N</text>
<text x="1317.7" y="1454.0" fill="#0000ff">N</text>
<text x="1412.8" y="1332.9" fill="#0000ff">N</text>
<text x="1419.9" y="1454.0" fill="#0000ff">N</text>
<text x="1419.9" y="1473.0" fill="#0000ff">H</text>
<text x="1614.1" y="1341.7" fill="#f00000" style="text-anchor:start;letter-spacing:0.7px">OH</text>
</g>
</svg>
</body>
</html>
